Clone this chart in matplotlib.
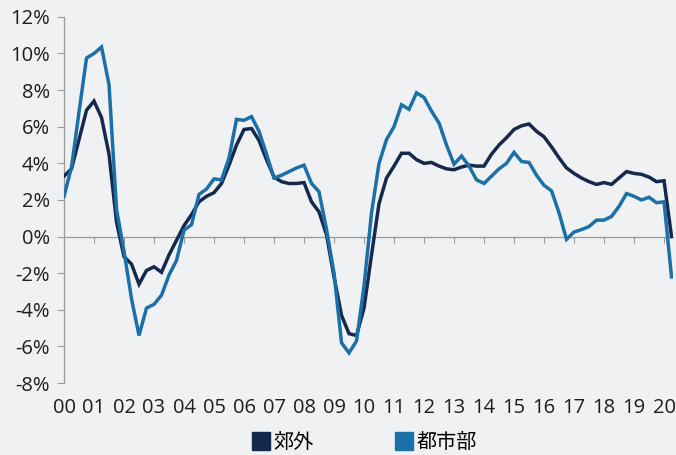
import matplotlib.pyplot as plt
import numpy as np
from matplotlib.lines import Line2D
from matplotlib.ticker import FuncFormatter, MultipleLocator

plt.rcParams["font.family"] = ["Open Sans", "Noto Sans CJK JP", "DejaVu Sans"]

# quarterly year-on-year change (%), 2000Q1 .. 2020Q2
suburb = [
    3.3, 3.7, 5.3, 6.9, 7.4, 6.5, 4.5, 0.8, -1.1, -1.5,
    -2.6, -1.85, -1.65, -1.95, -1.0, -0.2, 0.6, 1.2, 1.9, 2.2,
    2.4, 2.9, 3.9, 5.0, 5.85, 5.9, 5.25, 4.2, 3.25, 3.0,
    2.9, 2.9, 2.95, 1.9, 1.35, 0.1, -2.2, -4.3, -5.3, -5.4,
    -3.9, -1.0, 1.8, 3.2, 3.85, 4.55, 4.55, 4.2, 4.0, 4.05,
    3.85, 3.7, 3.65, 3.8, 3.9, 3.85, 3.85, 4.5, 5.0, 5.4,
    5.85, 6.05, 6.15, 5.75, 5.45, 4.9, 4.3, 3.75, 3.45, 3.2,
    3.0, 2.85, 2.95, 2.85, 3.2, 3.55, 3.45, 3.4, 3.25, 3.0,
    3.05, 0.0,
]
urban = [
    2.2, 3.8, 6.8, 9.75, 10.0, 10.35, 8.3, 1.5, -0.8, -3.4,
    -5.4, -3.9, -3.7, -3.2, -2.1, -1.3, 0.35, 0.65, 2.3, 2.6,
    3.15, 3.1, 4.3, 6.4, 6.35, 6.55, 5.75, 4.5, 3.2, 3.35,
    3.55, 3.75, 3.9, 2.9, 2.45, 0.4, -2.0, -5.8, -6.35, -5.7,
    -2.7, 1.3, 4.0, 5.3, 6.0, 7.2, 6.95, 7.85, 7.6, 6.85,
    6.2, 5.0, 3.95, 4.4, 3.85, 3.1, 2.9, 3.3, 3.7, 4.0,
    4.6, 4.1, 4.05, 3.35, 2.8, 2.5, 1.3, -0.15, 0.25, 0.38,
    0.55, 0.9, 0.9, 1.1, 1.65, 2.35, 2.2, 2.0, 2.15, 1.85,
    1.9, -2.2,
]
year_labels = [f"{y:02d}" for y in range(0, 21)]
series_names = ["郊外", "都市部"]

NAVY = "#15294d"
BLUE = "#1c70a8"
BG = "#eff1f2"
AXIS = "#9a9a9a"

t = np.arange(len(suburb)) / 4.0

fig = plt.figure(figsize=(6.76, 4.55), dpi=100, facecolor=BG)
ax = fig.add_axes([0.0947, 0.158, 0.9009, 0.805], facecolor=BG)

ax.plot(t, suburb, color=NAVY, lw=2.5, solid_joinstyle="miter", zorder=3)
ax.plot(t, urban, color=BLUE, lw=2.5, solid_joinstyle="miter", zorder=4)

ax.set_xlim(0, 20.3)
ax.set_ylim(-8, 12)

# y axis: grey spine with outward ticks and percent labels
ax.yaxis.set_major_locator(MultipleLocator(2))
ax.yaxis.set_major_formatter(FuncFormatter(lambda v, _: f"{v:.0f}%"))
ax.tick_params(axis="y", direction="out", length=5, width=0.8, color=AXIS,
               labelsize=14.5, pad=5, labelcolor="#1e1e1e")
ax.spines["left"].set_color(AXIS)
ax.spines["left"].set_linewidth(0.9)

# x axis line sits on zero with small ticks, labels go along the bottom
ax.spines["bottom"].set_position(("data", 0))
ax.spines["bottom"].set_color(AXIS)
ax.spines["bottom"].set_linewidth(0.9)
ax.spines["top"].set_visible(False)
ax.spines["right"].set_visible(False)
ax.set_xticks(np.arange(0, 21))
ax.tick_params(axis="x", direction="out", length=4, width=0.8, color=AXIS,
               labelbottom=False)

sec = ax.secondary_xaxis("bottom")
sec.spines["bottom"].set_visible(False)
sec.set_xticks(np.arange(0, 21))
sec.set_xticklabels(year_labels)
sec.tick_params(axis="x", length=0, pad=11, labelsize=14.5, labelcolor="#1e1e1e")

handles = [
    Line2D([], [], ls="none", marker="s", markersize=12.5, color=NAVY),
    Line2D([], [], ls="none", marker="s", markersize=12.5, color=BLUE),
]
fig.legend(handles, series_names, loc="center", bbox_to_anchor=(0.54, 0.027),
           ncol=2, frameon=False, fontsize=14.5, handlelength=0.8,
           handletextpad=0.2, columnspacing=4.1)

fig.savefig("out.png", dpi=100, facecolor=BG)
